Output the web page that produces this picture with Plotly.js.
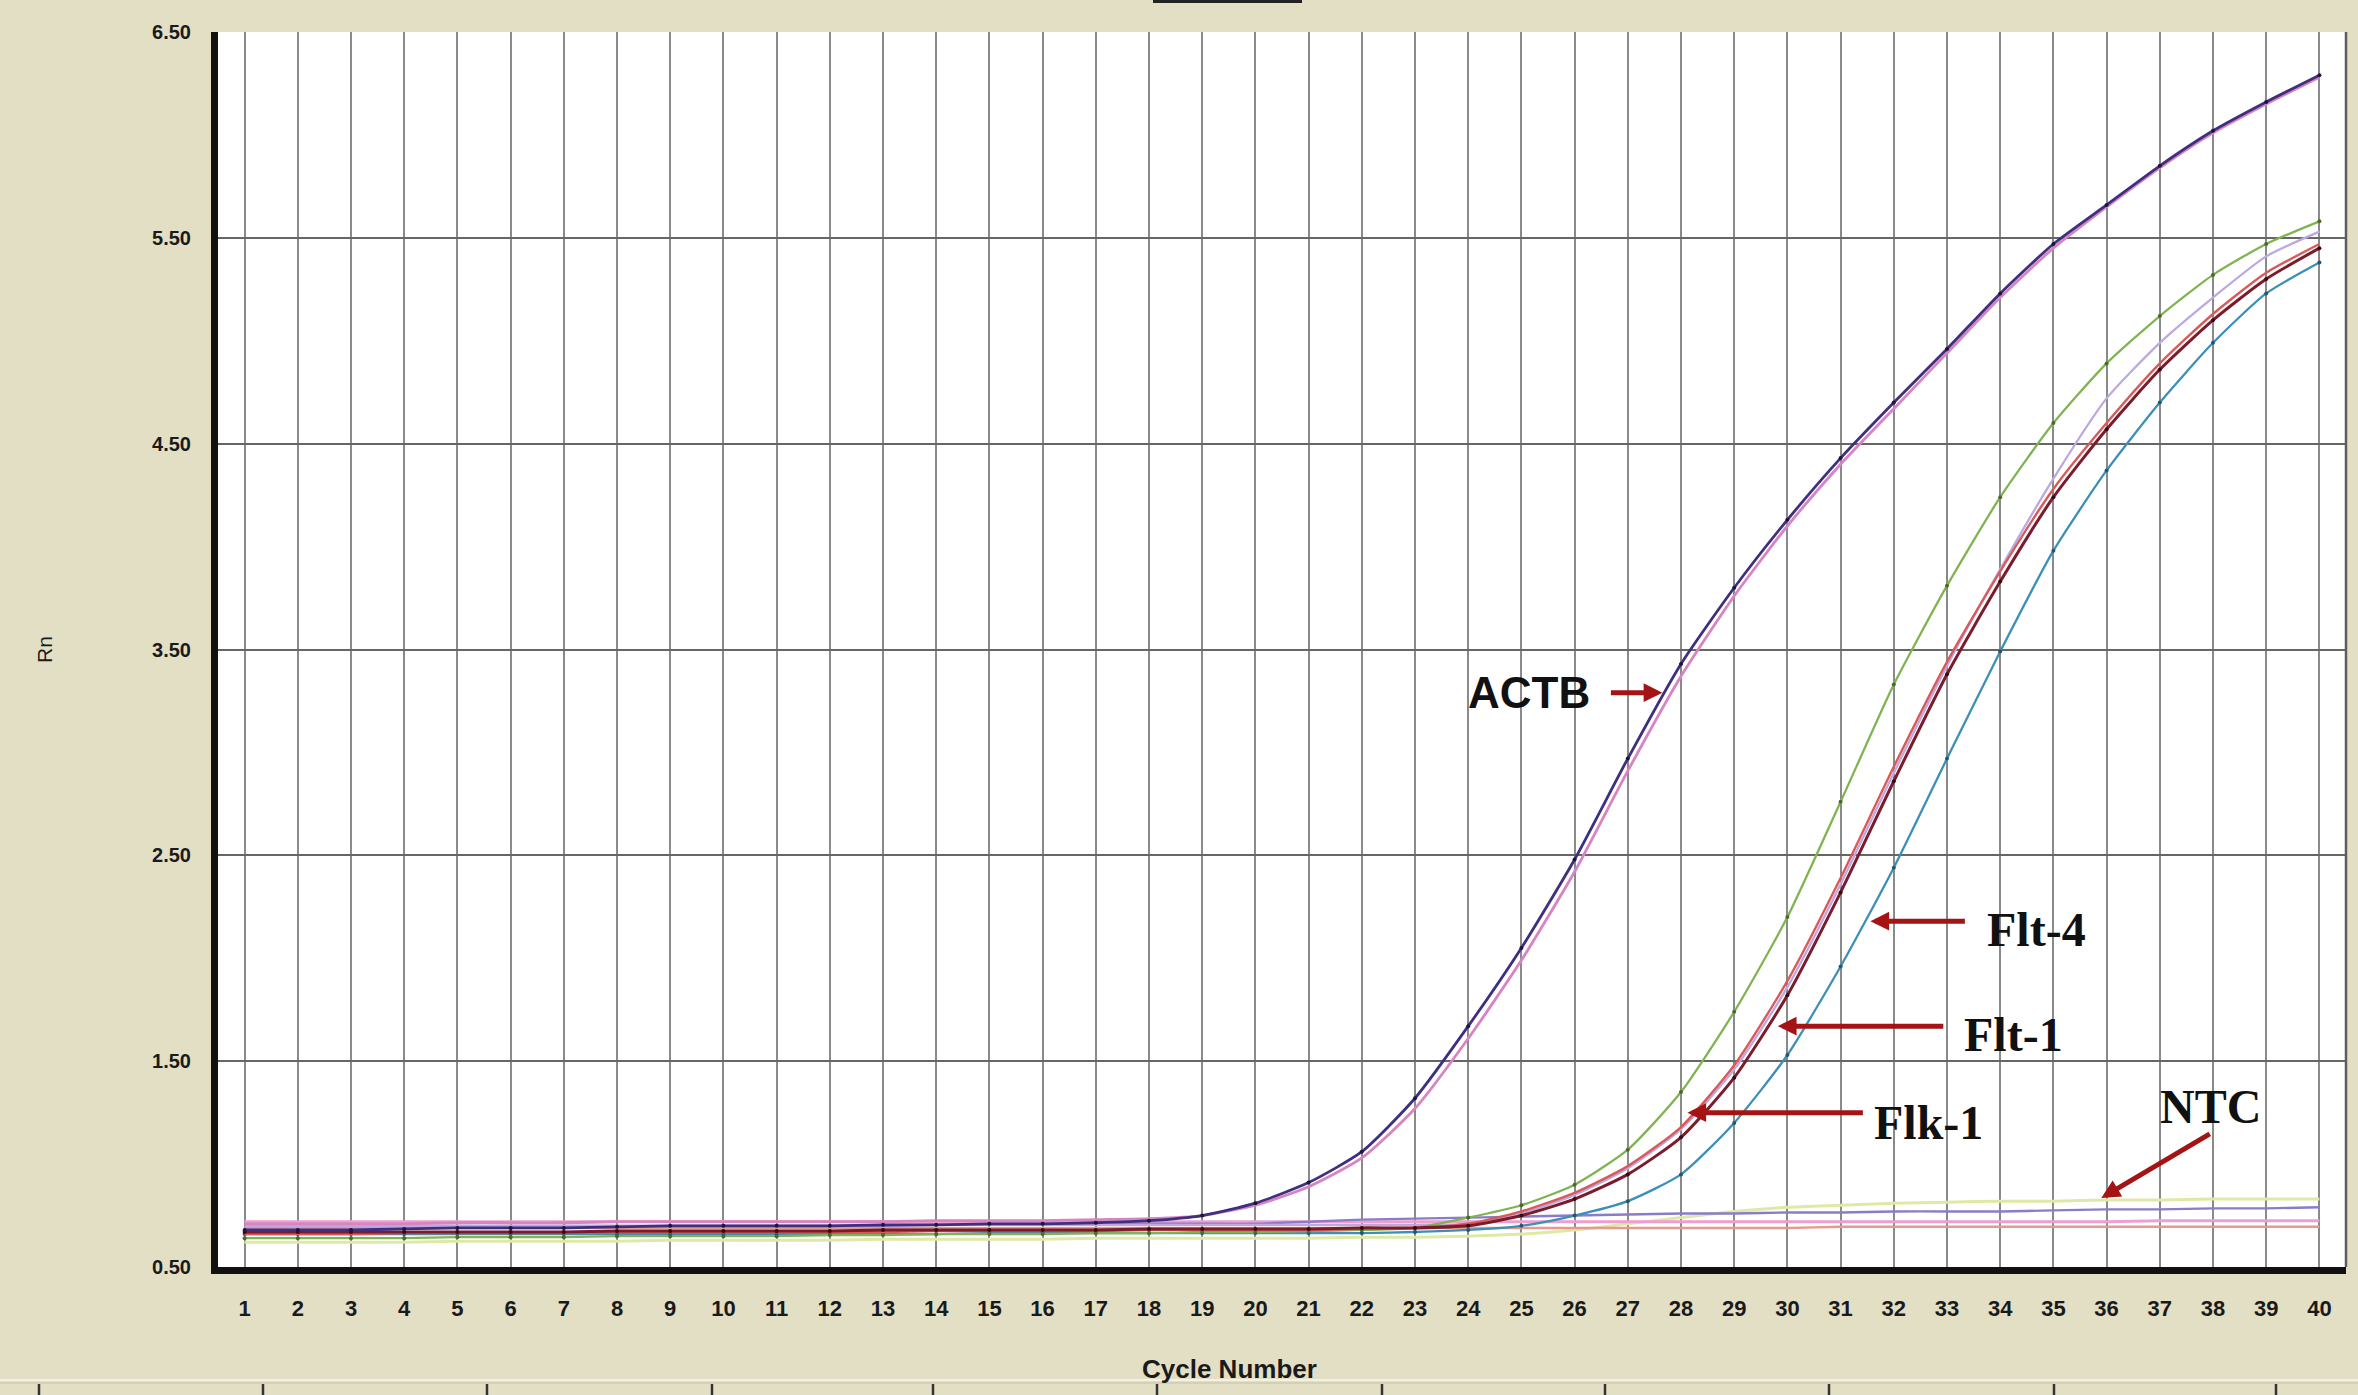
<!DOCTYPE html>
<html><head><meta charset="utf-8">
<script src="https://cdn.plot.ly/plotly-3.0.1.min.js"></script>
<style>html,body{margin:0;padding:0;background:#e3dfc4;}#chart{width:2358px;height:1395px;}</style>
</head><body><div id="chart"></div>
<script>
// ---------- data ----------
const cycles = [1,2,3,4,5,6,7,8,9,10,11,12,13,14,15,16,17,18,19,20,
                21,22,23,24,25,26,27,28,29,30,31,32,33,34,35,36,37,38,39,40];

const actbA = [0.68,0.68,0.68,0.685,0.69,0.69,0.69,0.695,0.70,0.70,
               0.70,0.70,0.705,0.705,0.71,0.71,0.715,0.725,0.75,0.81,
               0.91,1.06,1.32,1.67,2.05,2.48,2.97,3.43,3.80,4.13,
               4.43,4.70,4.96,5.23,5.47,5.66,5.85,6.02,6.16,6.29];
const actbB = [0.71,0.71,0.71,0.71,0.715,0.715,0.715,0.72,0.72,0.72,
               0.72,0.72,0.72,0.725,0.725,0.725,0.73,0.735,0.75,0.80,
               0.89,1.03,1.27,1.61,1.99,2.42,2.91,3.37,3.76,4.10,
               4.40,4.67,4.94,5.21,5.45,5.65,5.84,6.01,6.15,6.28];
const flk1  = [0.64,0.64,0.64,0.64,0.645,0.645,0.645,0.65,0.65,0.65,
               0.65,0.655,0.655,0.66,0.66,0.66,0.665,0.665,0.67,0.67,
               0.675,0.68,0.69,0.74,0.80,0.90,1.07,1.35,1.74,2.20,
               2.76,3.33,3.81,4.24,4.60,4.89,5.12,5.32,5.47,5.58];
const flt1  = [0.67,0.67,0.67,0.67,0.67,0.67,0.67,0.675,0.675,0.675,
               0.675,0.675,0.68,0.68,0.68,0.68,0.68,0.685,0.685,0.685,
               0.685,0.69,0.69,0.70,0.75,0.83,0.95,1.13,1.42,1.82,
               2.32,2.86,3.38,3.83,4.24,4.57,4.86,5.10,5.30,5.45];
const flt1b = [0.66,0.66,0.66,0.665,0.665,0.665,0.665,0.67,0.67,0.67,
               0.67,0.67,0.67,0.675,0.675,0.675,0.675,0.68,0.68,0.68,
               0.68,0.685,0.69,0.71,0.77,0.86,0.99,1.18,1.48,1.89,
               2.39,2.93,3.44,3.88,4.28,4.60,4.89,5.13,5.33,5.47];
const lav   = [0.70,0.70,0.70,0.70,0.70,0.70,0.70,0.70,0.70,0.70,
               0.70,0.70,0.705,0.705,0.705,0.705,0.705,0.705,0.705,0.705,
               0.705,0.705,0.705,0.71,0.76,0.85,0.98,1.17,1.46,1.86,
               2.36,2.90,3.42,3.89,4.33,4.72,4.99,5.21,5.41,5.53];
const flt4  = [0.66,0.66,0.66,0.66,0.66,0.66,0.66,0.66,0.66,0.66,
               0.66,0.66,0.66,0.66,0.665,0.665,0.665,0.665,0.665,0.665,
               0.665,0.665,0.67,0.68,0.70,0.75,0.82,0.95,1.20,1.53,
               1.96,2.44,2.97,3.49,3.98,4.37,4.70,4.99,5.23,5.38];
const ntcA  = [0.70,0.70,0.70,0.70,0.70,0.70,0.70,0.70,0.70,0.70,
               0.70,0.70,0.70,0.705,0.705,0.705,0.705,0.71,0.71,0.71,
               0.72,0.73,0.735,0.74,0.745,0.75,0.755,0.76,0.76,0.765,
               0.765,0.77,0.77,0.77,0.775,0.78,0.78,0.785,0.785,0.79];
const ntcB  = [0.72,0.72,0.72,0.72,0.72,0.72,0.72,0.72,0.72,0.72,
               0.72,0.72,0.72,0.72,0.72,0.72,0.72,0.72,0.72,0.72,
               0.72,0.72,0.72,0.72,0.72,0.72,0.72,0.72,0.72,0.72,
               0.72,0.72,0.72,0.72,0.72,0.72,0.725,0.725,0.725,0.725];
const ntcC  = [0.69,0.69,0.69,0.69,0.69,0.69,0.69,0.69,0.69,0.69,
               0.69,0.69,0.69,0.69,0.69,0.69,0.69,0.69,0.69,0.69,
               0.69,0.69,0.69,0.69,0.69,0.69,0.69,0.69,0.69,0.69,
               0.695,0.695,0.695,0.695,0.695,0.695,0.695,0.695,0.695,0.695];
const ntcD  = [0.62,0.62,0.62,0.62,0.625,0.625,0.625,0.625,0.63,0.63,
               0.63,0.63,0.635,0.635,0.635,0.635,0.64,0.64,0.64,0.64,
               0.64,0.645,0.645,0.65,0.66,0.68,0.71,0.74,0.77,0.79,
               0.80,0.81,0.815,0.82,0.82,0.825,0.825,0.83,0.83,0.83];

const yTicks = [0.5,1.5,2.5,3.5,4.5,5.5,6.5];
const xTicks = cycles;

// annotation labels
const labelText = ['ACTB','Flt-4','Flt-1','Flk-1','NTC'];
const labelX    = [25.14, 34.68, 34.25, 32.65, 37.95];
const labelY    = [3.29, 2.14, 1.63, 1.20, 1.28];
// arrows: tip position and tail offset (pixels)
const arrowX  = [27.65, 31.56, 29.82, 28.12, 35.90];
const arrowY  = [3.29, 2.18, 1.67, 1.25, 0.835];
const arrowAX = [-53, 96, 167, 177, 110];
const arrowAY = [0, 0, 0, 0, -65];

// ---------- traces ----------
function tr(y, color, width, mk) {
  const t = {x: cycles, y: y, type: 'scatter', mode: mk ? 'lines+markers' : 'lines',
    line: {color: color, width: width, shape: 'spline', smoothing: 0.6},
    hoverinfo: 'skip'};
  if (mk) t.marker = {size: 4, color: mk};
  return t;
}
const data = [
  tr(ntcD, '#dfe9a6', 3),
  tr(ntcC, '#e49a8e', 2.5),
  tr(ntcB, '#ec9fd0', 3),
  tr(ntcA, '#8a7cc8', 2.4),
  tr(flt4, '#3c90b8', 2.3, '#24566e'),
  tr(lav, '#bda8e0', 2.3),
  tr(flk1, '#80b452', 2.3, '#4a6a2a'),
  tr(flt1b, '#d95a5a', 2.4),
  tr(flt1, '#7a1c2c', 3, '#3a0a10'),
  tr(actbB, '#d884c0', 2.8),
  tr(actbA, '#3e2f80', 2.8, '#1e1440')
];

// ---------- annotations ----------
const L = 218, R = 2346, T = 32, B = 1267;
const px2paperX = p => (p - L) / (R - L);
const px2paperY = p => (B - p) / (B - T);

const ann = [];
for (let i = 0; i < labelText.length; i++) {
  const serif = i > 0;
  ann.push({xref: 'x', yref: 'y', x: labelX[i], y: labelY[i], text: '<b>' + labelText[i] + '</b>',
    showarrow: false,
    font: {family: serif ? 'Liberation Serif, Times New Roman, serif' : 'Liberation Sans, Arial, sans-serif',
           size: serif ? 48 : 44, color: '#111'}});
  ann.push({xref: 'x', yref: 'y', x: arrowX[i], y: arrowY[i], text: '', showarrow: true,
    ax: arrowAX[i], ay: arrowAY[i], arrowhead: 2, arrowsize: 0.75, arrowwidth: 5,
    arrowcolor: '#a51414', standoff: 0, startstandoff: 0});
}
// x axis title (sits left of centre in the reference)
ann.push({xref: 'paper', yref: 'paper', x: px2paperX(1229), y: px2paperY(1386),
  text: '<b>Cycle Number</b>', showarrow: false,
  font: {family: 'Liberation Sans, Arial, sans-serif', size: 26, color: '#1a1a1a'}});

// decorative strip at the very bottom (part of a neighbouring panel)
const stripTicksPx = [39, 263, 487, 712, 933, 1157, 1382, 1605, 1829, 2054, 2276];
const shapes = [
  {type: 'line', xref: 'paper', yref: 'paper', x0: 1, x1: 1, y0: 0, y1: 1,
   line: {color: '#5e5e5e', width: 2.5}},
  {type: 'rect', xref: 'paper', yref: 'paper', x0: px2paperX(1153), x1: px2paperX(1302),
   y0: px2paperY(3), y1: px2paperY(-2), fillcolor: '#222', line: {width: 0}},
  {type: 'line', xref: 'paper', yref: 'paper', x0: px2paperX(0), x1: px2paperX(2358),
   y0: px2paperY(1380), y1: px2paperY(1380), line: {color: '#f3f1e4', width: 2}},
  {type: 'line', xref: 'paper', yref: 'paper', x0: px2paperX(0), x1: px2paperX(2358),
   y0: px2paperY(1383), y1: px2paperY(1383), line: {color: '#cfcab0', width: 1.5}}
];
stripTicksPx.forEach(p => shapes.push({type: 'line', xref: 'paper', yref: 'paper',
  x0: px2paperX(p), x1: px2paperX(p), y0: px2paperY(1384), y1: px2paperY(1395),
  line: {color: '#333', width: 2.5}}));

const layout = {
  width: 2358, height: 1395,
  margin: {l: L, r: 2358 - R, t: T, b: 1395 - B},
  paper_bgcolor: '#e3dfc4', plot_bgcolor: '#ffffff',
  showlegend: false,
  xaxis: {range: [0.5, 40.5], tickmode: 'array', tickvals: xTicks, ticktext: xTicks.map(String),
    showgrid: true, gridcolor: '#8a8a8a', gridwidth: 2, zeroline: false,
    showline: true, linecolor: '#111', linewidth: 7, ticks: '', ticklabelstandoff: 16,
    tickfont: {family: 'Liberation Sans, Arial, sans-serif', size: 22, color: '#1a1a1a', weight: 'bold'},
    fixedrange: true},
  yaxis: {range: [0.5, 6.5], tickmode: 'array', tickvals: yTicks, tickformat: '.2f',
    showgrid: true, gridcolor: '#666666', gridwidth: 2, zeroline: false,
    showline: true, linecolor: '#111', linewidth: 7, ticks: '', ticklabelstandoff: 16,
    tickfont: {family: 'Liberation Sans, Arial, sans-serif', size: 20, color: '#1a1a1a', weight: 'bold'},
    title: {text: 'Rn', standoff: 96,
      font: {family: 'Liberation Sans, Arial, sans-serif', size: 21, color: '#1a1a1a'}},
    fixedrange: true},
  annotations: ann,
  shapes: shapes
};

Plotly.newPlot('chart', data, layout, {staticPlot: true, displayModeBar: false});
</script></body></html>
